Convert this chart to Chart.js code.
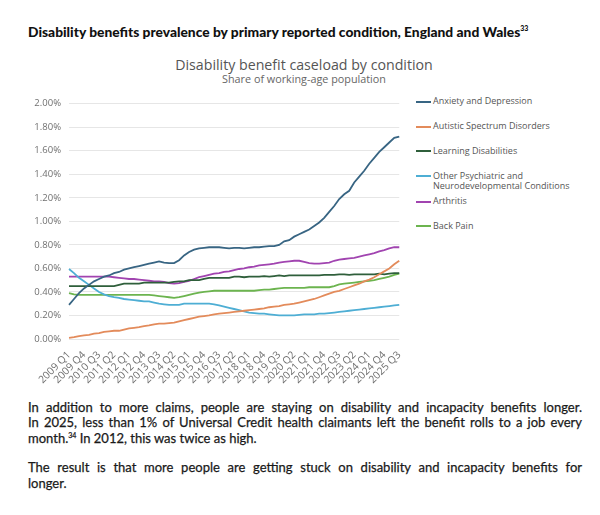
<!DOCTYPE html>
<html>
<head>
<meta charset="utf-8">
<script src="https://cdn.jsdelivr.net/npm/chart.js@4.4.0/dist/chart.umd.min.js"></script>
<style>
  body { margin:0; background:#fff; width:600px; height:515px; position:relative; overflow:hidden; font-family:Lato, sans-serif; }
  #head { position:absolute; left:28px; top:23px; font-weight:900; font-size:13.8px; color:#111; line-height:18px; white-space:nowrap; }
  #head sup, #body sup { font-size:7px; line-height:0; }
  #ttl { position:absolute; left:0; width:608px; top:56px; text-align:center; font-family:'Open Sans'; font-size:14.2px; color:#555; line-height:18px; }
  #sub { position:absolute; left:0; width:608px; top:72px; text-align:center; font-family:'Open Sans'; font-size:10.8px; color:#666; line-height:14px; }
  #wrap { position:absolute; left:0; top:90px; width:410px; height:305px; }
  #legend { position:absolute; left:416px; top:96px; width:184px; font-family:'Open Sans'; font-size:9px; color:#555; }
  .li { position:absolute; left:0; height:25px; width:184px; }
  .mk { position:absolute; left:0; top:4.5px; width:15px; height:2px; }
  .lt { position:absolute; left:17px; top:0; width:160px; line-height:10.5px; }
  #body { position:absolute; left:28px; top:400px; width:554px; font-size:13px; color:#1a1a1a; line-height:15.4px; -webkit-text-stroke:0.25px #1a1a1a; }
  .j { text-align:justify; text-align-last:justify; white-space:nowrap; }
  .gap { height:14px; }
</style>
</head>
<body>
<div id="head">Disability benefits prevalence by primary reported condition, England and Wales<sup>33</sup></div>
<div id="ttl">Disability benefit caseload by condition</div>
<div id="sub">Share of working-age population</div>
<div id="wrap"><canvas id="mycanvas"></canvas></div>
<div id="legend"></div>
<div id="body">
  <div class="j">In addition to more claims, people are staying on disability and incapacity benefits longer.</div>
  <div class="j">In 2025, less than 1% of Universal Credit health claimants left the benefit rolls to a job every</div>
  <div>month.<sup>34</sup> In 2012, this was twice as high.</div>
  <div class="gap"></div>
  <div class="j">The result is that more people are getting stuck on disability and incapacity benefits for</div>
  <div>longer.</div>
</div>
<script>
var quarters = [
  "2009 Q1","2009 Q2","2009 Q3","2009 Q4","2010 Q1","2010 Q2","2010 Q3","2010 Q4",
  "2011 Q1","2011 Q2","2011 Q3","2011 Q4","2012 Q1","2012 Q2","2012 Q3","2012 Q4",
  "2013 Q1","2013 Q2","2013 Q3","2013 Q4","2014 Q1","2014 Q2","2014 Q3","2014 Q4",
  "2015 Q1","2015 Q2","2015 Q3","2015 Q4","2016 Q1","2016 Q2","2016 Q3","2016 Q4",
  "2017 Q1","2017 Q2","2017 Q3","2017 Q4","2018 Q1","2018 Q2","2018 Q3","2018 Q4",
  "2019 Q1","2019 Q2","2019 Q3","2019 Q4","2020 Q1","2020 Q2","2020 Q3","2020 Q4",
  "2021 Q1","2021 Q2","2021 Q3","2021 Q4","2022 Q1","2022 Q2","2022 Q3","2022 Q4",
  "2023 Q1","2023 Q2","2023 Q3","2023 Q4","2024 Q1","2024 Q2","2024 Q3","2024 Q4",
  "2025 Q1","2025 Q2","2025 Q3"
];

var yTicks = [0, 0.2, 0.4, 0.6, 0.8, 1.0, 1.2, 1.4, 1.6, 1.8, 2.0];

var seriesNames = [
  "Anxiety and Depression",
  "Autistic Spectrum Disorders",
  "Learning Disabilities",
  "Other Psychiatric and Neurodevelopmental Conditions",
  "Arthritis",
  "Back Pain"
];

// % of working-age population, quarterly
var anxiety = [0.29,0.34,0.39,0.43,0.46,0.49,0.51,0.53,0.54,0.56,
  0.57,0.59,0.60,0.61,0.62,0.63,0.64,0.65,0.66,0.65,
  0.645,0.645,0.67,0.71,0.74,0.76,0.77,0.775,0.78,0.78,
  0.78,0.775,0.77,0.775,0.775,0.77,0.775,0.78,0.78,0.785,
  0.79,0.79,0.80,0.83,0.84,0.87,0.89,0.91,0.93,0.96,
  0.99,1.03,1.08,1.13,1.19,1.23,1.26,1.33,1.38,1.43,
  1.49,1.54,1.59,1.63,1.67,1.71,1.72];
var autistic = [0.01,0.015,0.025,0.03,0.035,0.045,0.05,0.06,0.065,0.07,
  0.07,0.08,0.09,0.095,0.10,0.11,0.115,0.125,0.13,0.13,
  0.135,0.14,0.15,0.16,0.17,0.18,0.19,0.195,0.20,0.21,
  0.215,0.22,0.225,0.23,0.235,0.24,0.245,0.25,0.255,0.26,
  0.27,0.275,0.28,0.29,0.295,0.30,0.31,0.32,0.33,0.34,
  0.355,0.37,0.385,0.40,0.41,0.425,0.44,0.455,0.47,0.49,
  0.505,0.525,0.55,0.575,0.60,0.635,0.665];
var learning = [0.45,0.45,0.45,0.45,0.45,0.45,0.45,0.45,0.45,0.45,
  0.46,0.47,0.47,0.47,0.47,0.48,0.48,0.48,0.48,0.48,
  0.48,0.485,0.49,0.49,0.50,0.50,0.50,0.51,0.52,0.52,
  0.52,0.52,0.52,0.53,0.53,0.525,0.53,0.53,0.53,0.535,
  0.53,0.535,0.54,0.535,0.54,0.54,0.54,0.54,0.54,0.54,
  0.54,0.545,0.545,0.545,0.55,0.55,0.545,0.55,0.55,0.55,
  0.55,0.55,0.555,0.55,0.555,0.56,0.56];
var otherPsych = [0.595,0.56,0.52,0.49,0.46,0.43,0.40,0.38,0.365,0.355,
  0.35,0.34,0.335,0.33,0.325,0.32,0.32,0.31,0.30,0.295,
  0.29,0.29,0.29,0.30,0.30,0.30,0.30,0.30,0.30,0.295,
  0.285,0.275,0.265,0.255,0.245,0.235,0.225,0.22,0.215,0.215,
  0.21,0.205,0.20,0.20,0.20,0.20,0.205,0.21,0.21,0.21,
  0.215,0.215,0.22,0.225,0.23,0.235,0.24,0.245,0.25,0.255,
  0.26,0.265,0.27,0.275,0.28,0.285,0.29];
var arthritis = [0.53,0.53,0.53,0.53,0.53,0.53,0.53,0.53,0.53,0.525,
  0.52,0.515,0.51,0.51,0.505,0.50,0.495,0.49,0.49,0.485,
  0.475,0.47,0.475,0.485,0.495,0.51,0.525,0.535,0.545,0.555,
  0.56,0.57,0.575,0.585,0.595,0.60,0.61,0.615,0.625,0.63,
  0.635,0.64,0.65,0.655,0.66,0.665,0.665,0.655,0.645,0.64,
  0.64,0.645,0.65,0.665,0.675,0.68,0.685,0.69,0.70,0.71,
  0.72,0.73,0.745,0.755,0.77,0.78,0.78];
var backPain = [0.39,0.38,0.375,0.375,0.375,0.375,0.375,0.375,0.375,0.375,
  0.375,0.375,0.375,0.375,0.375,0.375,0.375,0.37,0.365,0.36,
  0.355,0.35,0.355,0.365,0.375,0.385,0.395,0.40,0.405,0.41,
  0.41,0.41,0.41,0.41,0.41,0.41,0.41,0.41,0.415,0.42,
  0.42,0.425,0.43,0.435,0.435,0.435,0.435,0.435,0.44,0.44,
  0.44,0.44,0.44,0.45,0.465,0.47,0.475,0.48,0.485,0.49,
  0.495,0.50,0.51,0.52,0.53,0.545,0.555];

var colours = ["#386583", "#e38b5b", "#2f5f3b", "#4eaed4", "#a144b0", "#6cb44f"];
var allSeries = [anxiety, autistic, learning, otherPsych, arthritis, backPain];

Chart.defaults.font.family = "'Open Sans', sans-serif";
Chart.defaults.color = "#707070";

var datasets = [];
for (var i in allSeries) {
  datasets.push({
    label: seriesNames[i],
    data: allSeries[i],
    borderColor: colours[i],
    backgroundColor: colours[i],
    borderWidth: 1.8,
    pointRadius: 0,
    fill: false,
    tension: 0
  });
}

var ctx = document.getElementById("mycanvas");
var LineGraph = new Chart(ctx, {
  type: "line",
  data: { labels: quarters, datasets: datasets },
  options: {
    responsive: true,
    maintainAspectRatio: false,
    animation: false,
    layout: { padding: { top: 9, right: 9, bottom: 11, left: 0 } },
    plugins: { legend: { display: false }, tooltip: { enabled: false } },
    scales: {
      x: {
        grid: { display: false },
        border: { display: false },
        afterFit: function(scale) { scale.height = 45; },
        ticks: {
          autoSkip: false, maxRotation: 45, minRotation: 45, padding: 2,
          font: { size: 10.3 },
          callback: function(v, idx) { return idx % 3 === 0 ? quarters[idx] : ""; }
        }
      },
      y: {
        min: 0, max: 2,
        afterFit: function(scale) { scale.width = 69; },
        afterBuildTicks: function(scale) { scale.ticks = yTicks.map(function(v){ return { value: v }; }); },
        grid: { color: "#e6e6e6", drawTicks: false },
        border: { display: false },
        ticks: {
          padding: 8, font: { size: 9.5 },
          callback: function(v) { return v.toFixed(2) + "%"; }
        }
      }
    }
  }
});

// legend drawn beside the chart
var leg = document.getElementById("legend");
var tops = [0, 25, 49.5, 74.5, 100, 124.5];
for (var k = 0; k < seriesNames.length; k++) {
  var item = document.createElement("div");
  item.className = "li";
  item.style.top = tops[k] + "px";
  item.innerHTML = '<span class="mk" style="background:' + colours[k] + '"></span><span class="lt">' + seriesNames[k] + '</span>';
  leg.appendChild(item);
}
</script>
</body>
</html>
